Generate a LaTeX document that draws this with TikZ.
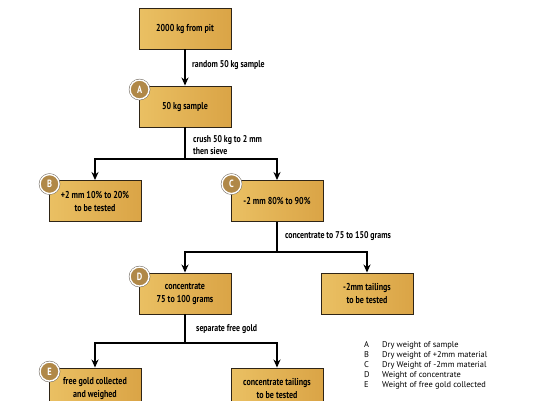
\documentclass[tikz,border=0pt]{standalone}
\usepackage{fontspec}
\setmainfont{PT Sans}[FakeStretch=0.8]
\newfontfamily\legfont{PT Sans}
\usetikzlibrary{arrows.meta}
\definecolor{goldL}{HTML}{F4D47F}
\definecolor{goldM}{HTML}{EAC063}
\definecolor{goldD}{HTML}{DAA446}
\definecolor{edgec}{HTML}{2E2416}
\definecolor{badgec}{HTML}{B08848}
\begin{document}
\begin{tikzpicture}[x=1pt,y=-1pt,
  box/.style={draw=edgec, line width=0.9pt, minimum width=92pt, minimum height=41pt,
    inner sep=0pt, align=center, font=\bfseries\fontsize{10}{13}\selectfont,
    left color=goldM, middle color=goldL, right color=goldD},
  badge/.style={circle, fill=badgec, draw=white, line width=1.4pt, minimum size=19pt,
    inner sep=0pt, text=white, font=\bfseries\fontsize{10.5}{12}\selectfont,
    preaction={draw=edgec!70, line width=2.4pt}},
  conn/.style={line width=1.5pt, draw=black},
  arr/.style={conn, -{Stealth[length=8pt,width=7pt,inset=2.5pt]}},
  lbl/.style={anchor=west, inner sep=0pt, font=\bfseries\fontsize{9.8}{12}\selectfont, align=left},
  leg/.style={anchor=west, inner sep=0pt, font=\legfont\fontsize{8.4}{10}\selectfont}
]
\useasboundingbox (0,0) rectangle (550,400);
\clip (0,0) rectangle (550,400);

% boxes
\node[box] (pit) at (185,28.5) {2000 kg from pit};
\node[box] (A) at (185,106.5) {50 kg sample};
\node[box] (B) at (95,201) {+2 mm 10\% to 20\%\\to be tested};
\node[box] (C) at (277,201) {-2 mm 80\% to 90\%};
\node[box] (D) at (185,293.5) {concentrate\\75 to 100 grams};
\node[box] (T) at (367,293.5) {-2mm tailings\\to be tested};
\node[box] (E) at (95,388.5) {free gold collected\\and weighed};
\node[box] (F) at (277,388.5) {concentrate tailings\\to be tested};

% badges
\node[badge] (bA) at ([xshift=1pt,yshift=-4pt]A.north west) {A};
\node[badge] (bB) at ([xshift=1pt,yshift=-4pt]B.north west) {B};
\node[badge] (bC) at ([xshift=1pt,yshift=-4pt]C.north west) {C};
\node[badge] (bD) at ([xshift=1pt,yshift=-4pt]D.north west) {D};
\node[badge] (bE) at ([xshift=1pt,yshift=-4pt]E.north west) {E};

% junctions
\coordinate (j1) at (185,159);
\coordinate (j2) at (277,252);
\coordinate (j3) at (185,343);

% connectors
\draw[arr] (pit) -- (A);
\draw[conn] (A) -- (j1);
\draw[arr] (j1) -| (B);
\draw[arr] (j1) -| (C);
\draw[conn] (C) -- (j2);
\draw[arr] (j2) -| (D);
\draw[arr] (j2) -| (T);
\draw[conn] (D) -- (j3);
\draw[arr] (j3) -| (E);
\draw[arr] (j3) -| (F);

% connector labels
\node[lbl] (l1) at (192,65) {random 50 kg sample};
\node[lbl] (l2) at (193,145.5) {crush 50 kg to 2 mm\\then sieve};
\node[lbl] (l3) at (285,236) {concentrate to 75 to 150 grams};
\node[lbl] (l4) at (196,329) {separate free gold};

% legend
\node[leg] (kA) at (364,345) {A};
\node[leg] (kB) at (364,355) {B};
\node[leg] (kC) at (364,365) {C};
\node[leg] (kD) at (364,375) {D};
\node[leg] (kE) at (364,385) {E};
\node[leg] (tA) at (382,345) {Dry weight of sample};
\node[leg] (tB) at (382,355) {Dry weight of +2mm material};
\node[leg] (tC) at (382,365) {Dry Weight of -2mm material};
\node[leg] (tD) at (382,375) {Weight of concentrate};
\node[leg] (tE) at (382,385) {Weight of free gold collected};
\end{tikzpicture}
\end{document}
